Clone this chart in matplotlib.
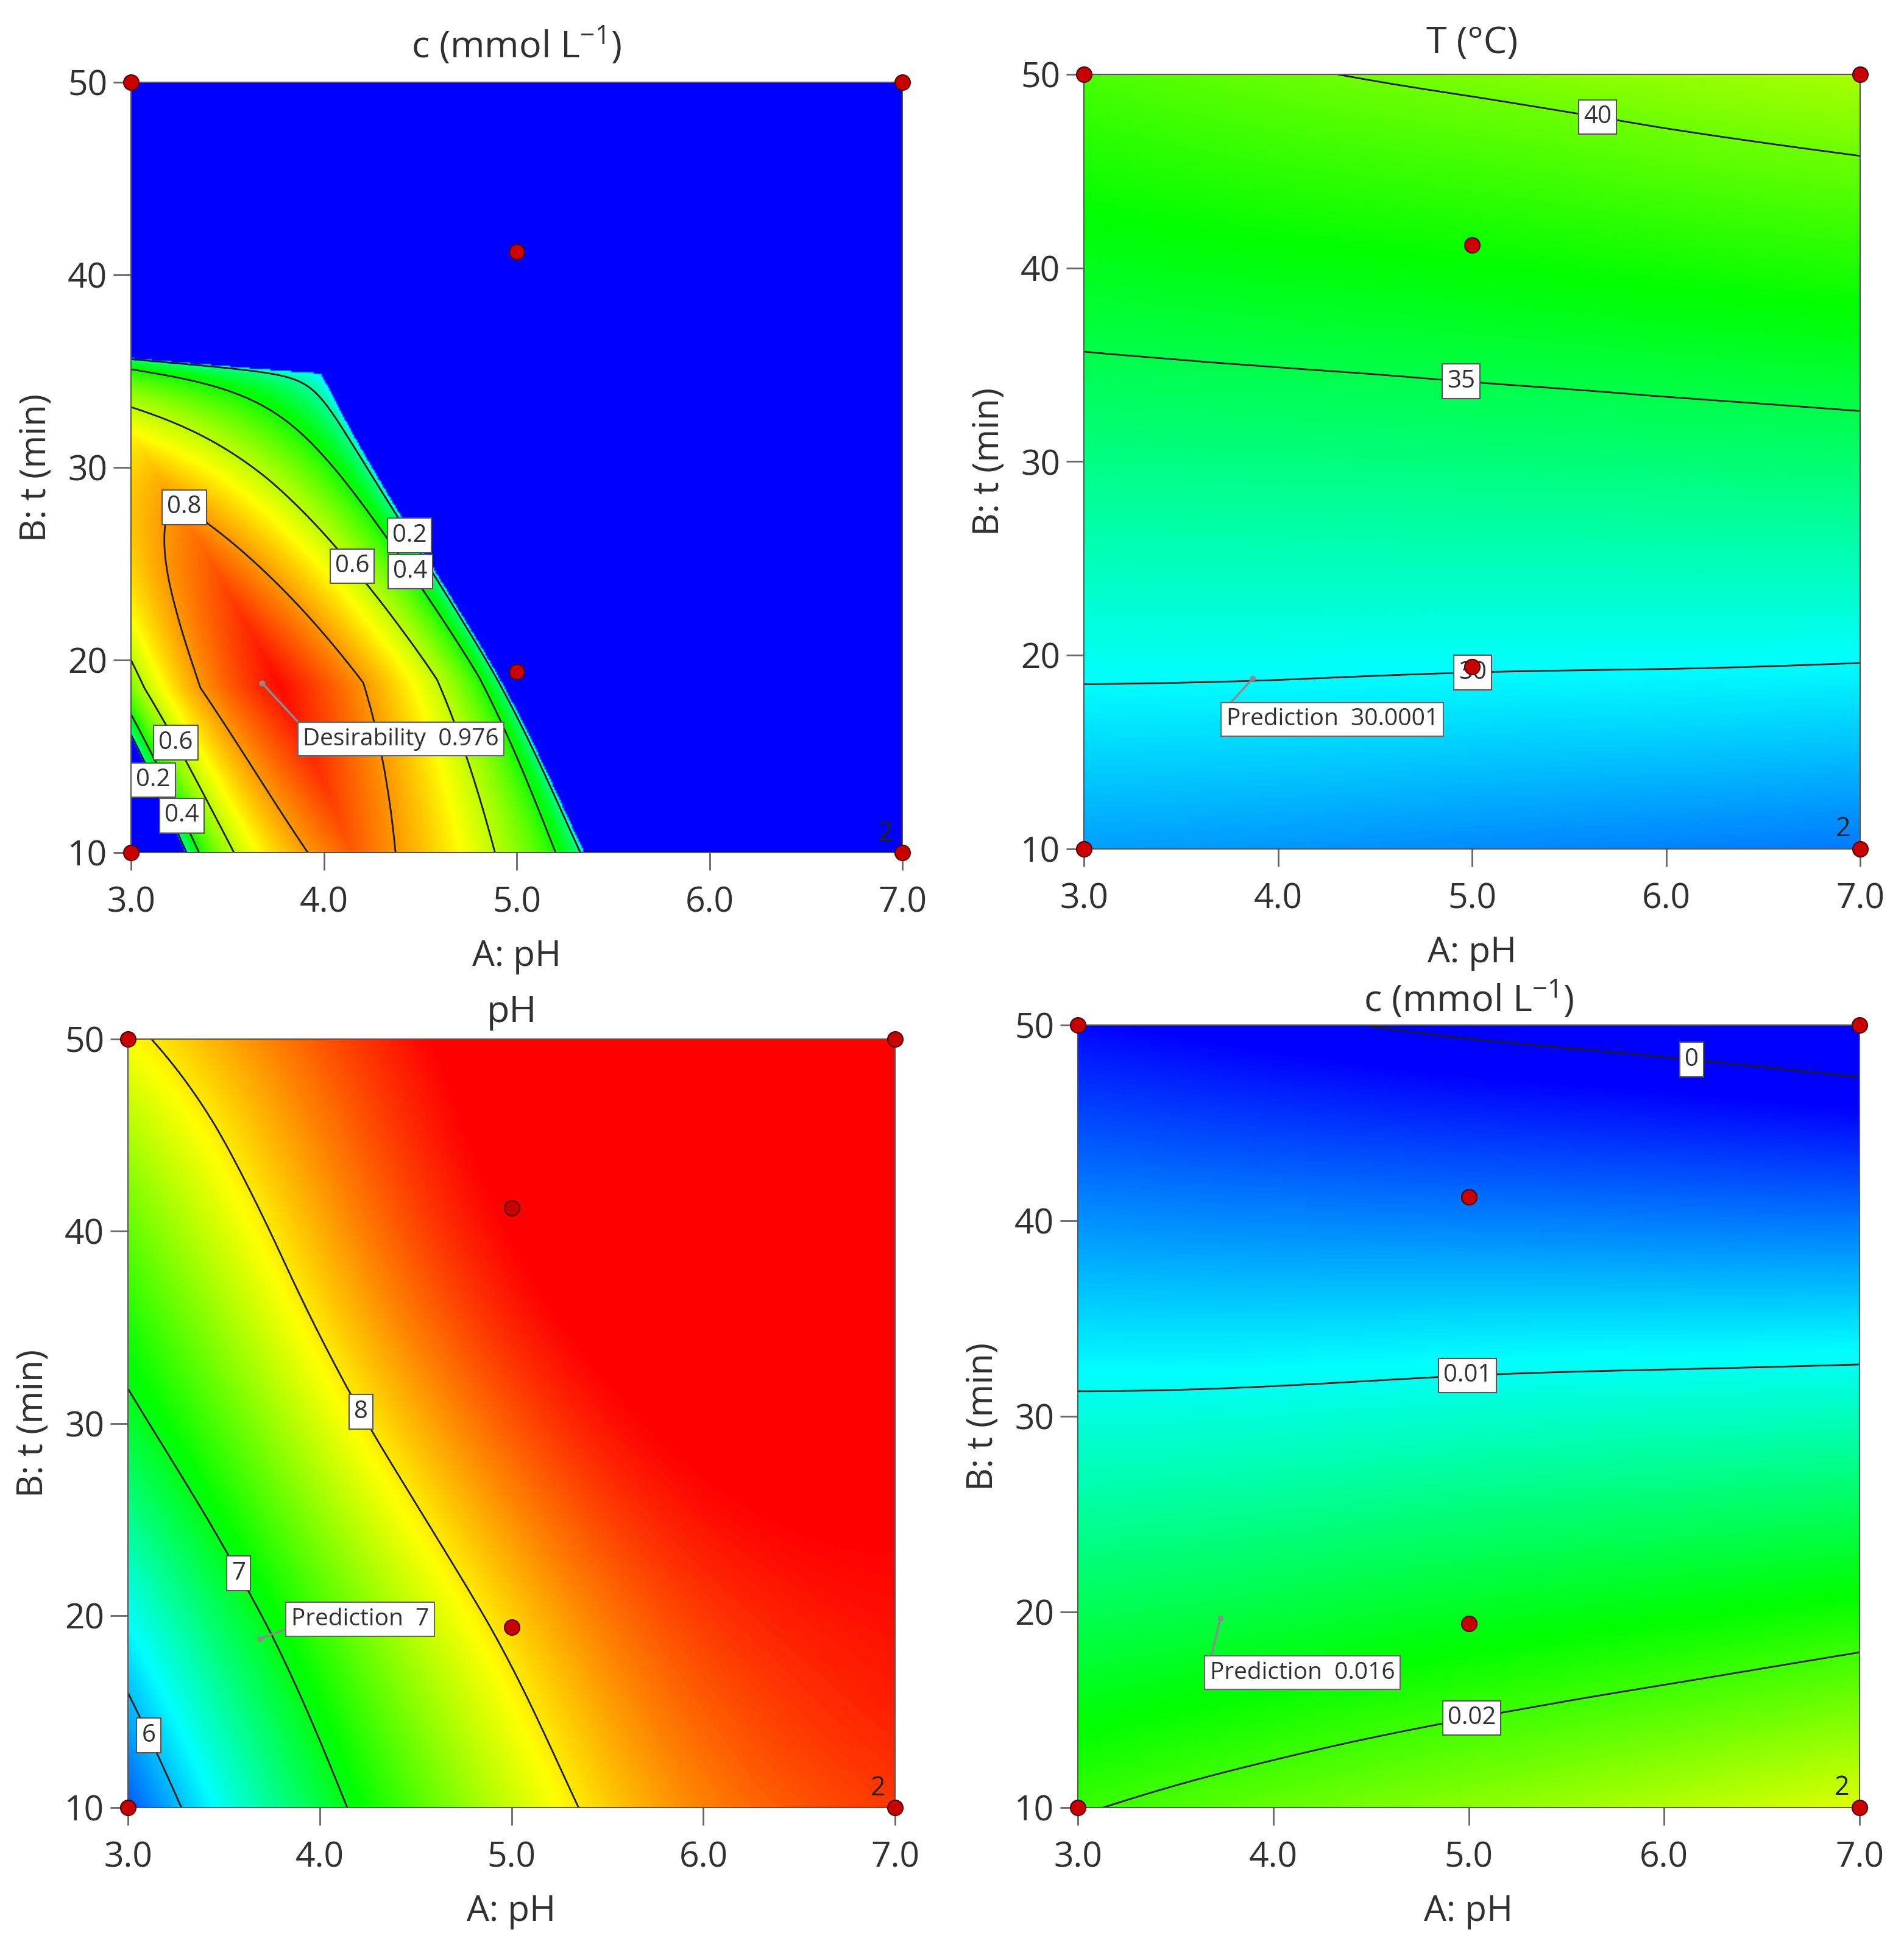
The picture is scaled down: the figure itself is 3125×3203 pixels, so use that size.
import numpy as np
import matplotlib.pyplot as plt
import matplotlib.tri as mtri
from matplotlib.colors import LinearSegmentedColormap

plt.rcParams['font.family'] = ['Open Sans', 'DejaVu Sans']
plt.rcParams['mathtext.fontset'] = 'custom'
plt.rcParams['mathtext.rm'] = 'Open Sans'
plt.rcParams['mathtext.it'] = 'Open Sans:italic'
plt.rcParams['mathtext.bf'] = 'Open Sans:bold'

# grid of factor levels the responses were read on
ph_levels = [3.0, 4.0, 5.0, 6.0, 7.0]
t_levels = [10, 20, 30, 40, 50]

# responses (rows = t, columns = pH)
temp_T = [
    [27.4, 27.2, 26.9, 26.65, 26.4],
    [30.45, 30.4, 30.3, 30.25, 30.15],
    [33.4, 33.5, 33.65, 33.8, 34.0],
    [36.2, 36.6, 36.95, 37.4, 37.8],
    [39.0, 39.8, 40.4, 41.0, 41.6],
]
final_ph = [
    [5.65, 6.85, 7.75, 8.35, 8.6],
    [6.25, 7.3, 8.1, 8.6, 8.75],
    [6.9, 7.8, 8.5, 8.85, 8.85],
    [7.4, 8.2, 8.8, 9.0, 8.95],
    [7.93, 8.5, 8.95, 9.1, 9.0],
]
conc_c = [
    [0.0198, 0.0213, 0.0226, 0.0239, 0.0254],
    [0.0152, 0.0160, 0.0169, 0.0177, 0.0186],
    [0.0106, 0.0108, 0.0112, 0.0115, 0.0118],
    [0.0059, 0.0056, 0.0054, 0.0052, 0.0050],
    [0.0013, 0.0004, -0.0004, -0.0010, -0.0018],
]

# desirability goals: (low, target, high); c is minimised between two limits
ph_goal = (6.0, 7.0, 8.0)
T_goal = (15.0, 30.0, 35.0)
T_upper_weight = 0.75
c_goal = (0.011, 0.07)

# design points
design_ph = [3.0, 3.0, 7.0, 7.0, 5.0, 5.0]
design_t = [10, 50, 10, 50, 41.2, 19.4]

# fine mesh for the smooth surfaces
gx, gy = np.meshgrid(np.linspace(0, 1, len(ph_levels)), np.linspace(0, 1, len(t_levels)))
tri = mtri.Triangulation(gx.ravel(), gy.ravel())
ux = np.linspace(1e-9, 1 - 1e-9, 481)
UX, UY = np.meshgrid(ux, ux)
PX = ph_levels[0] + (ph_levels[-1] - ph_levels[0]) * UX
PY = t_levels[0] + (t_levels[-1] - t_levels[0]) * UY


def smooth(grid):
    f = mtri.CubicTriInterpolator(tri, np.asarray(grid, float).ravel(), kind='min_E')
    return np.ma.filled(f(UX, UY), np.nan)


T_s = smooth(temp_T)
ph_s = smooth(final_ph)
c_s = smooth(conc_c)

lo, tg, hi = ph_goal
d_ph = np.where(ph_s < tg, (ph_s - lo) / (tg - lo), (hi - ph_s) / (hi - tg))
lo, tg, hi = T_goal
d_T = np.where(T_s < tg, (T_s - lo) / (tg - lo),
               np.clip((hi - T_s) / (hi - tg), 0, None) ** T_upper_weight)
d_c = (c_goal[1] - c_s) / (c_goal[1] - c_goal[0])
d_ph = np.clip(d_ph, 0, 1)
d_T = np.clip(d_T, 0, 1)
d_c = np.clip(d_c, 0, 1)
feasible = (d_ph > 0) & (d_T > 0) & (d_c > 0)
desir = np.where(feasible, np.cbrt(d_ph * d_T * d_c), 0.0)
desir_img = np.where(feasible, desir, -1.0)

cmap = LinearSegmentedColormap.from_list(
    'dx', ['#0000ff', '#00ffff', '#00ff00', '#ffff00', '#ff0000'])

fig = plt.figure(figsize=(31.25, 32.03), dpi=100)
W, H = 3125, 3203


def box(l, r, t, b):
    return [l / W, 1 - b / H, (r - l) / W, (b - t) / H]


panels = [
    dict(rect=box(215, 1481, 135, 1399), img=desir_img, field=desir,
         vmin=-0.22, vmax=0.98, levels=[0.2, 0.4, 0.6, 0.8],
         spots=[(0.8, (3.3, 28.3)), (0.6, (4.15, 24.9)), (0.2, (4.45, 26.5)),
                (0.4, (4.45, 24.6)), (0.6, (3.25, 15.8)), (0.2, (3.15, 13.9)),
                (0.4, (3.3, 12.1))],
         title=r'c (mmol L$^{\mathregular{-1}}$)', tpad=29,
         flag=(3.68, 18.8), flag_text='Desirability  0.976',
         flag_box=(4.4, 15.9), relpos=(0.0, 1.0)),
    dict(rect=box(1779, 3053, 122, 1393), img=T_s, field=T_s,
         vmin=23.0, vmax=51.0, levels=[30, 35, 40],
         spots=[(40, (5.66, 48.6)), (35, (4.95, 34.9)), (30, (5.0, 20.0))],
         title='T (°C)', tpad=25,
         flag=(3.87, 18.8), flag_text='Prediction  30.0001',
         flag_box=(4.28, 16.7), relpos=(0.0, 1.0)),
    dict(rect=box(210, 1469, 1705, 2966), img=ph_s, field=ph_s,
         vmin=5.34, vmax=8.8, levels=[6, 7, 8],
         spots=[(8, (4.23, 30.7)), (7, (3.56, 22.1)), (6, (3.14, 13.9))],
         title='pH', tpad=20,
         flag=(3.69, 18.8), flag_text='Prediction  7',
         flag_box=(4.21, 19.8), relpos=(0.0, 0.15)),
    dict(rect=box(1769, 3052, 1682, 2966), img=c_s, field=c_s,
         vmin=0.001, vmax=0.035, levels=[0.0, 0.01, 0.02],
         spots=[(0.0, (6.15, 49.1)), (0.01, (4.99, 33.0)), (0.02, (5.0, 15.4))],
         title=r'c (mmol L$^{\mathregular{-1}}$)', tpad=16,
         flag=(3.73, 19.7), flag_text='Prediction  0.016',
         flag_box=(4.15, 16.9), relpos=(0.0, 1.0)),
]

txt = '#303030'
for p in panels:
    ax = fig.add_axes(p['rect'])
    ax.imshow(p['img'], extent=(3, 7, 10, 50), origin='lower', aspect='auto',
              cmap=cmap, vmin=p['vmin'], vmax=p['vmax'],
              interpolation='bilinear', zorder=0)
    # one contour set per level so every label sits on its own line
    for lev in p['levels']:
        cs = ax.contour(PX, PY, p['field'], levels=[lev],
                        colors='#1e1e1e', linewidths=2.0, zorder=2)
        spots = [s for lv, s in p['spots'] if lv == lev]
        if not spots:
            continue
        labs = ax.clabel(cs, fmt=lambda v: f'{v:g}', manual=spots,
                         inline=False, fontsize=29, colors=txt)
        for lab in labs:
            lab.set_rotation(0)
            lab.set_zorder(4)
            lab.set_bbox(dict(boxstyle='square,pad=0.2', fc='white',
                              ec='#555555', lw=1.5))

    ax.plot(*p['flag'], 'o', ms=6, color='#8c8c8c', zorder=5)
    ax.annotate(p['flag_text'], xy=p['flag'], xytext=p['flag_box'],
                ha='center', va='center', fontsize=28, color=txt, zorder=5,
                bbox=dict(boxstyle='square,pad=0.22', fc='white',
                          ec='#666666', lw=1.5),
                arrowprops=dict(arrowstyle='-', color='#8c8c8c', lw=2.5,
                                relpos=p['relpos'], shrinkA=0, shrinkB=0))

    ax.plot(design_ph, design_t, 'o', ms=18, mfc='#c80000', mec='#500000',
            mew=1.5, clip_on=False, zorder=6)
    ax.text(6.95, 10.3, '2', ha='right', va='bottom', fontsize=31,
            color='#222222', zorder=5)

    ax.set_xlim(3, 7)
    ax.set_ylim(10, 50)
    ax.set_xticks([3, 4, 5, 6, 7])
    ax.set_xticklabels(['3.0', '4.0', '5.0', '6.0', '7.0'])
    ax.set_yticks([10, 20, 30, 40, 50])
    ax.tick_params(direction='out', length=21, width=2, color='#666666',
                   labelsize=41, labelcolor=txt)
    ax.tick_params(axis='x', pad=18)
    ax.tick_params(axis='y', pad=7)
    for s in ax.spines.values():
        s.set_color('#555555')
        s.set_linewidth(1.5)
    ax.set_xlabel('A: pH', fontsize=42, color=txt, labelpad=22)
    ax.set_ylabel('B: t (min)', fontsize=42, color=txt, labelpad=16)
    ax.set_title(p['title'], fontsize=44, color=txt, pad=p['tpad'])

fig.savefig('out.png', dpi=100)
